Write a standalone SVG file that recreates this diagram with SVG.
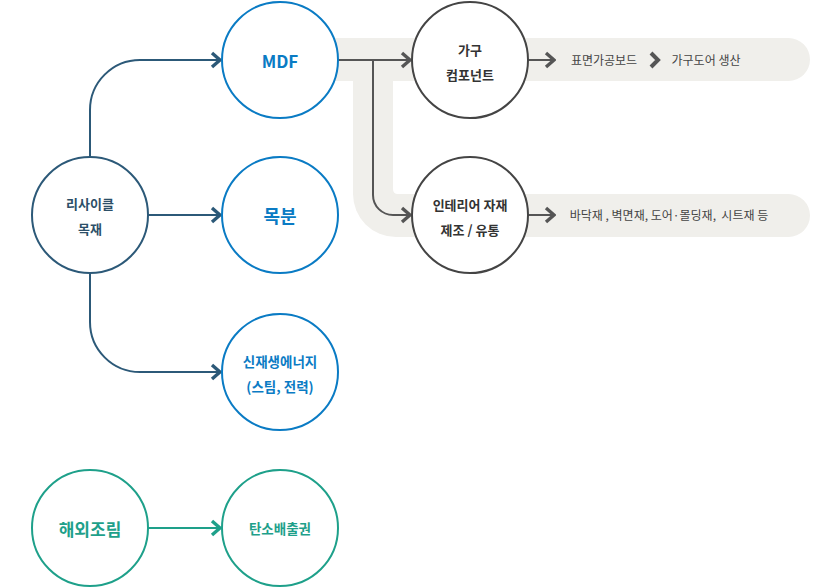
<svg xmlns="http://www.w3.org/2000/svg" width="840" height="588" viewBox="0 0 840 588">
<defs>
<style>
text{font-family:"Noto Sans CJK KR","Noto Sans",sans-serif;text-anchor:middle;dominant-baseline:central}
.blue{fill:#fff;stroke:#0a7bc4;stroke-width:2}
.slate{fill:#fff;stroke:#2c5978;stroke-width:2}
.gray{fill:#fff;stroke:#444;stroke-width:2}
.teal{fill:#fff;stroke:#1ea08a;stroke-width:2}
.tb{fill:#0a7bc4;font-weight:bold}
.ts{fill:#2c4f68;font-weight:bold;font-size:13px}
.tg{fill:#333;font-weight:bold;font-size:13px}
.tt{fill:#1ea08a;font-weight:bold}
.small{fill:#444;font-size:12px;white-space:pre}
.cs{fill:none;stroke:#2c5978;stroke-width:2}
.cg{fill:none;stroke:#555;stroke-width:2}
.ct{fill:none;stroke:#1ea08a;stroke-width:2}
</style>
<marker id="aS" markerUnits="userSpaceOnUse" markerWidth="14" markerHeight="20" viewBox="-12 -10 14 20" refX="0" refY="0" orient="auto"><polyline points="-8,-7 0,0 -8,7" fill="none" stroke="#2c5978" stroke-width="3.4"/></marker>
<marker id="aG" markerUnits="userSpaceOnUse" markerWidth="14" markerHeight="20" viewBox="-12 -10 14 20" refX="0" refY="0" orient="auto"><polyline points="-8,-7 0,0 -8,7" fill="none" stroke="#555" stroke-width="3.4"/></marker>
<marker id="aT" markerUnits="userSpaceOnUse" markerWidth="14" markerHeight="20" viewBox="-12 -10 14 20" refX="0" refY="0" orient="auto"><polyline points="-8,-7 0,0 -8,7" fill="none" stroke="#1ea08a" stroke-width="3.4"/></marker>
</defs>
<rect width="840" height="588" fill="#fff"/>
<g id="band">
<path d="M320 38 H788.5 A21.5 21.5 0 0 1 788.5 81 H393 V189 Q393 194 398 194 H788.5 A21.5 21.5 0 0 1 788.5 237 H396 A43 43 0 0 1 353 194 V81 H320 Z" fill="#f0efeb"/>
</g>
<g id="connectors">
<path class="cs" d="M90 157 V110 A50 50 0 0 1 140 60 H220" marker-end="url(#aS)"/>
<path class="cs" d="M148 215 H220" marker-end="url(#aS)"/>
<path class="cs" d="M90 273 V322 A50 50 0 0 0 140 372 H220" marker-end="url(#aS)"/>
<path class="ct" d="M148 528 H220" marker-end="url(#aT)"/>
<path class="cg" d="M338 60 H410" marker-end="url(#aG)"/>
<path class="cg" d="M373 60 V195 A20 20 0 0 0 393 215 H410" marker-end="url(#aG)"/>
<path class="cg" d="M528 60 H554" marker-end="url(#aG)"/>
<path class="cg" d="M528 215 H554" marker-end="url(#aG)"/>
<polyline points="651,53 658,60 651,67" fill="none" stroke="#555" stroke-width="4"/>
</g>
<g id="recycle"><circle class="slate" cx="90" cy="215" r="58"/><text class="ts" x="90" y="203">리사이클</text><text class="ts" x="90" y="228">목재</text></g>
<g id="mdf"><circle class="blue" cx="280" cy="60" r="58"/><text class="tb" x="280" y="60" font-size="17">MDF</text></g>
<g id="mokbun"><circle class="blue" cx="280" cy="215" r="58"/><text class="tb" x="280" y="215" font-size="18">목분</text></g>
<g id="energy"><circle class="blue" cx="280" cy="372" r="58"/><text class="tb" x="280" y="361" font-size="13.5">신재생에너지</text><text class="tb" x="280" y="386" font-size="13.5">(스팀, 전력)</text></g>
<g id="furniture"><circle class="gray" cx="470" cy="60" r="58"/><text class="tg" x="470" y="49">가구</text><text class="tg" x="470" y="74">컴포넌트</text></g>
<g id="interior"><circle class="gray" cx="470" cy="215" r="58"/><text class="tg" x="470" y="204">인테리어 자재</text><text class="tg" x="470" y="229">제조 / 유통</text></g>
<g id="overseas"><circle class="teal" cx="90" cy="528" r="58"/><text class="tt" x="90" y="528" font-size="17">해외조림</text></g>
<g id="carbon"><circle class="teal" cx="280" cy="528" r="58"/><text class="tt" x="280" y="528" font-size="13.5">탄소배출권</text></g>
<g id="labels">
<text class="small" x="604" y="59">표면가공보드</text>
<text class="small" x="706" y="59">가구도어 생산</text>
<text class="small" x="669" y="214" xml:space="preserve">바닥재 , 벽면재, 도어·몰딩재,  시트재 등</text>
</g>
</svg>
